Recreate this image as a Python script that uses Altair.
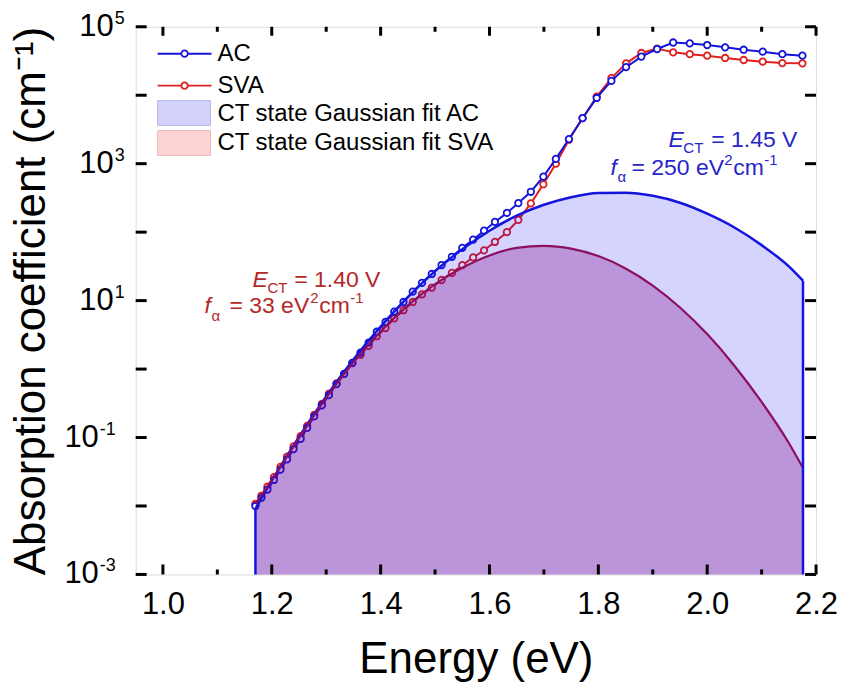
import altair as alt
import pandas as pd

# ---------------- data ----------------
E_DATA = [1.170, 1.181, 1.192, 1.204, 1.216, 1.228, 1.240, 1.253, 1.265, 1.278,
          1.292, 1.305, 1.319, 1.333, 1.348, 1.363, 1.378, 1.393, 1.409, 1.425,
          1.442, 1.459, 1.476, 1.494, 1.512, 1.531, 1.550, 1.570, 1.590, 1.610,
          1.632, 1.653, 1.676, 1.699, 1.722, 1.746, 1.771, 1.797, 1.824, 1.851,
          1.879, 1.908, 1.9375, 1.968, 2.000, 2.033, 2.067, 2.102, 2.138, 2.175]
AC = [0.0100, 0.0132, 0.0174, 0.0240, 0.0339, 0.0479, 0.0676, 0.0955, 0.138, 0.204,
      0.295, 0.417, 0.603, 0.851, 1.23, 1.74, 2.43, 3.51, 4.90, 6.92,
      9.55, 13.5, 18.2, 24.5, 33.1, 43.7, 58.9, 77.6, 105, 141,
      191, 266, 389, 646, 1175, 2290, 4620, 9120, 16200, 25700,
      36700, 47300, 58900, 57100, 54100, 50100, 46200, 43300, 39800, 37800]
SVA = [0.0107, 0.0141, 0.0191, 0.0263, 0.0372, 0.0525, 0.0741, 0.105, 0.148, 0.214,
       0.309, 0.437, 0.617, 0.851, 1.22, 1.62, 2.19, 3.02, 3.98, 5.50,
       7.24, 9.55, 12.3, 15.5, 20.0, 25.4, 32.9, 42.7, 54.3, 71.9,
       100, 151, 263, 501, 1000, 2240, 4620, 9550, 17800, 29200,
       41400, 47900, 42300, 39800, 37800, 35000, 32700, 30900, 29500, 29200]

E_FIT = [1.17, 1.20, 1.25, 1.30, 1.35, 1.40, 1.45, 1.50, 1.55, 1.60, 1.65,
         1.70, 1.75, 1.80, 1.85, 1.90, 1.95, 2.00, 2.05, 2.10, 2.15, 2.176]
AC_FIT = [0.0091, 0.0234, 0.102, 0.398, 1.38, 4.17, 11.2, 26.9, 56.2, 105, 174,
          251, 324, 372, 377, 339, 269, 186, 117, 64.6, 31.6, 19.5]
SVA_FIT = [0.0107, 0.0240, 0.098, 0.380, 1.26, 3.55, 8.5, 17.4, 30.2, 45.7, 58.9,
           63.1, 57.5, 44.7, 29.5, 16.6, 7.94, 3.24, 1.12, 0.331, 0.0832, 0.036]

X_MAJOR = [1.0, 1.2, 1.4, 1.6, 1.8, 2.0, 2.2]
X_MINOR = [1.1, 1.3, 1.5, 1.7, 1.9, 2.1]
Y_MAJOR = [1e5, 1e3, 1e1, 1e-1, 1e-3]
Y_MINOR = [1e4, 1e2, 1e0, 1e-2]
Y_EXP_POS = ["5", "3", "1"]
Y_EXP_NEG = ["-1", "-3"]

LEGEND = ["AC", "SVA", "CT state Gaussian fit AC", "CT state Gaussian fit SVA"]

# ---------------- style ----------------
W, H = 682, 549
FONT = "Liberation Sans"
AC_C = "#1414dc"
SVA_C = "#e01e1e"
FIT_SVA_C = "#8c1060"
ANN_AC = "#2626c8"
ANN_SVA = "#b42828"

xscale = alt.Scale(domain=[0.95, 2.2], nice=False, zero=False)
yscale = alt.Scale(type="log", domain=[1e-3, 1e5], nice=False)
xaxis = alt.Axis(values=X_MAJOR, format=".1f", labelFontSize=31, labelFont=FONT,
                 labelColor="black", ticks=False, domain=False, grid=False,
                 labelPadding=15, labelFlush=False, labelOverlap=False,
                 title="Energy (eV)", titleFontSize=44, titleFont=FONT,
                 titleFontWeight="normal", titleColor="black",
                 titleY=98, titleBaseline="alphabetic")
yaxis = alt.Axis(labels=False, ticks=False, domain=False, grid=False,
                 title="Absorption coefficient (cm⁻¹)", titleFontSize=44, titleFont=FONT,
                 titleFontWeight="normal", titleColor="black", titleAngle=270,
                 titleX=-91, titleY=H / 2, titleAlign="center", titleBaseline="alphabetic")


def X(f="E"):
    return alt.X(f"{f}:Q", scale=xscale, axis=xaxis)


def Y(f="v"):
    return alt.Y(f"{f}:Q", scale=yscale, axis=yaxis)


d_ac = pd.DataFrame({"E": E_DATA, "v": AC})
d_sva = pd.DataFrame({"E": E_DATA, "v": SVA})
f_ac = pd.DataFrame({"E": E_FIT, "v": AC_FIT})
f_sva = pd.DataFrame({"E": E_FIT, "v": SVA_FIT})
f_ends = pd.DataFrame({"E": [E_FIT[0], E_FIT[-1]], "v": [AC_FIT[0], AC_FIT[-1]]})

layers = []


def data_series(df, color):
    line = alt.Chart(df).mark_line(color=color, strokeWidth=2).encode(x=X(), y=Y())
    pts = alt.Chart(df).mark_point(shape="circle", filled=True, fill="white", stroke=color,
                                   strokeWidth=1.8, size=42, opacity=1).encode(x=X(), y=Y())
    return [line, pts]


layers += data_series(d_sva, SVA_C)
layers += data_series(d_ac, AC_C)

layers.append(alt.Chart(f_ac).mark_area(color="#0000ff", opacity=0.17, interpolate="monotone")
              .encode(x=X(), y=Y(), y2=alt.datum(0.001)))
layers.append(alt.Chart(f_sva).mark_area(color="#800080", opacity=0.30, interpolate="monotone")
              .encode(x=X(), y=Y(), y2=alt.datum(0.001)))
layers.append(alt.Chart(f_ac).mark_line(color=AC_C, strokeWidth=2.5, interpolate="monotone")
              .encode(x=X(), y=Y()))
layers.append(alt.Chart(f_sva).mark_line(color=FIT_SVA_C, strokeWidth=2.2, interpolate="monotone")
              .encode(x=X(), y=Y()))
layers.append(alt.Chart(f_ends).mark_rule(color=AC_C, strokeWidth=2.5)
              .encode(x=X(), y=Y(), y2=alt.datum(0.001)))

# ---------------- inward ticks ----------------
tx_major = pd.DataFrame({"E": X_MAJOR})
tx_minor = pd.DataFrame({"E": X_MINOR})
ty_major = pd.DataFrame({"v": Y_MAJOR})
ty_minor = pd.DataFrame({"v": Y_MINOR})
TK = dict(color="black", strokeWidth=3)
layers.append(alt.Chart(tx_major).mark_rule(**TK).encode(x=X(), y=alt.value(H), y2=alt.value(H - 10)))
layers.append(alt.Chart(tx_major).mark_rule(**TK).encode(x=X(), y=alt.value(0), y2=alt.value(9)))
layers.append(alt.Chart(tx_minor).mark_rule(**TK).encode(x=X(), y=alt.value(H), y2=alt.value(H - 5)))
layers.append(alt.Chart(tx_minor).mark_rule(**TK).encode(x=X(), y=alt.value(0), y2=alt.value(5)))
for df in (ty_major, ty_minor):
    layers.append(alt.Chart(df).mark_rule(**TK).encode(y=Y(), x=alt.value(0), x2=alt.value(11)))
    layers.append(alt.Chart(df).mark_rule(**TK).encode(y=Y(), x=alt.value(W), x2=alt.value(W - 11)))

# ---------------- y tick labels 10^n ----------------
lab_pos = pd.DataFrame({"v": Y_MAJOR[:3], "e": Y_EXP_POS})
lab_neg = pd.DataFrame({"v": Y_MAJOR[3:], "e": Y_EXP_NEG})
for df, xb in ((lab_pos, -22), (lab_neg, -37)):
    layers.append(alt.Chart(df).mark_text(text="10", font=FONT, fontSize=31, align="right",
                                          baseline="middle", color="black")
                  .encode(y=Y(), x=alt.value(xb)))
    layers.append(alt.Chart(df).mark_text(font=FONT, fontSize=18, align="left",
                                          baseline="middle", color="black", dy=-8)
                  .encode(y=Y(), x=alt.value(xb + 1), text="e:N"))

# ---------------- legend ----------------
leg = pd.DataFrame({"t": LEGEND})
for i, (c, yy) in enumerate(((AC_C, 27), (SVA_C, 59))):
    src = leg.iloc[[i]]
    layers.append(alt.Chart(src).mark_rule(color=c, strokeWidth=2)
                  .encode(x=alt.value(22), x2=alt.value(76), y=alt.value(yy)))
    layers.append(alt.Chart(src).mark_point(shape="circle", filled=True, fill="white", stroke=c,
                                            strokeWidth=1.8, size=42, opacity=1)
                  .encode(x=alt.value(49), y=alt.value(yy)))
    layers.append(alt.Chart(src).mark_text(font=FONT, fontSize=24, align="left", baseline="middle",
                                           color="black")
                  .encode(x=alt.value(82), y=alt.value(yy), text="t:N"))
for i, (fc, sc, y0) in enumerate((("#d3d3fb", "#b8b8e8", 74), ("#fdd3d3", "#e6bcbc", 104))):
    src = leg.iloc[[i + 2]]
    layers.append(alt.Chart(src).mark_rect(fill=fc, stroke=sc, strokeWidth=1)
                  .encode(x=alt.value(22), x2=alt.value(75), y=alt.value(y0), y2=alt.value(y0 + 25)))
    layers.append(alt.Chart(src).mark_text(font=FONT, fontSize=24, align="left", baseline="middle",
                                           color="black")
                  .encode(x=alt.value(82), y=alt.value(y0 + 13), text="t:N"))

# ---------------- annotations ----------------
ANN = [
    # text, x, baseline y, size, italic, color
    ("E", 534, 121, 23, True, ANN_AC), ("CT", 549, 127, 15, False, ANN_AC),
    ("= 1.45 V", 577, 121, 23, False, ANN_AC),
    ("f", 476, 149, 23, True, ANN_AC), ("α", 483, 156, 15, False, ANN_AC),
    ("= 250 eV", 497, 149, 23, False, ANN_AC), ("2", 590, 139, 15, False, ANN_AC),
    ("cm", 599, 149, 23, False, ANN_AC), ("-1", 630, 139, 15, False, ANN_AC),
    ("E", 117, 261, 23, True, ANN_SVA), ("CT", 132, 267, 15, False, ANN_SVA),
    ("= 1.40 V", 159, 261, 23, False, ANN_SVA),
    ("f", 69, 287, 23, True, ANN_SVA), ("α", 76, 295, 15, False, ANN_SVA),
    ("= 33 eV", 94, 287, 23, False, ANN_SVA), ("2", 175, 277, 15, False, ANN_SVA),
    ("cm", 184, 287, 23, False, ANN_SVA), ("-1", 215, 277, 15, False, ANN_SVA),
]
ann_df = pd.DataFrame({"t": [a[0] for a in ANN]})
for i, (t, ax, ay, fs, it, col) in enumerate(ANN):
    layers.append(alt.Chart(ann_df.iloc[[i]]).mark_text(
        font=FONT, fontSize=fs, fontStyle="italic" if it else "normal", align="left",
        baseline="alphabetic", color=col).encode(x=alt.value(ax), y=alt.value(ay), text="t:N"))

chart = alt.layer(*layers).properties(
    width=W, height=H,
    autosize=alt.AutoSizeParams(type="none"),
    padding={"left": 128, "top": 18, "right": 22, "bottom": 107},
).configure_view(stroke="black", strokeWidth=3).configure(background="white")

chart.save("out.html", embed_options={"renderer": "svg", "actions": False})
